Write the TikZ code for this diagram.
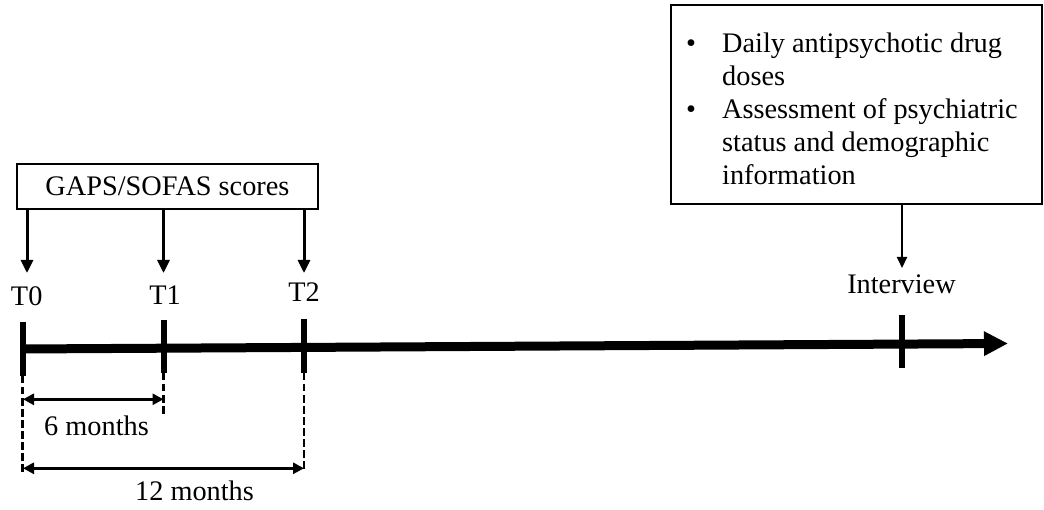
\documentclass[tikz,border=0pt]{standalone}
\usepackage{fontspec}
\setmainfont{Liberation Serif}
\usetikzlibrary{arrows.meta}
\begin{document}
\begin{tikzpicture}[x=1pt,y=-1pt,
  lbl/.style={font=\fontsize{28.3}{33}\selectfont, inner sep=0pt},
  box/.style={draw, line width=2pt, inner sep=0pt},
  down/.style={line width=3pt, -{Triangle[length=13pt,width=12pt]}},
  tickmark/.style={line width=6pt},
  dsh/.style={line width=2.5pt, dash pattern=on 7.5pt off 3.5pt},
  span/.style={line width=3pt, {Triangle[length=11pt,width=11pt]}-{Triangle[length=11pt,width=11pt]}}]
\useasboundingbox (0,0) rectangle (1044,510);

% main axis
\coordinate (a0) at (22,349);
\coordinate (aend) at (1008,343.5);
\draw[line width=9pt, -{Triangle[length=24pt,width=23pt]}] (a0) -- (aend);

% ticks
\coordinate (t0top) at (22.5,322);   \coordinate (t0bot) at (22.5,376);
\coordinate (t1top) at (163.5,320);  \coordinate (t1bot) at (163.5,373);
\coordinate (t2top) at (304,319);    \coordinate (t2bot) at (304,373);
\coordinate (titop) at (902,315);    \coordinate (tibot) at (902,368);
\draw[tickmark] (t0top) -- (t0bot);
\draw[tickmark] (t1top) -- (t1bot);
\draw[tickmark] (t2top) -- (t2bot);
\draw[tickmark] (titop) -- (tibot);

% dashed extensions
\coordinate (d0) at (22.5,473);
\coordinate (d1) at (163.5,417);
\coordinate (d2) at (304,470);
\draw[dsh] (t0bot) -- (d0);
\draw[dsh] (t1bot) -- (d1);
\draw[dsh] (t2bot) -- (d2);

% span arrows
\coordinate (s6a) at (23,399.3);  \coordinate (s6b) at (163.5,399.3);
\coordinate (s12a) at (23,468.3); \coordinate (s12b) at (304,468.3);
\draw[span] (s6a) -- (s6b);
\draw[span] (s12a) -- (s12b);
\node[lbl, anchor=base] (m6) at (96.5,435) {6 months};
\node[lbl, anchor=base] (m12) at (194.5,500) {12 months};

% time labels
\node[lbl, anchor=base] (lt0) at (26.7,306) {T0};
\node[lbl, anchor=base] (lt1) at (165,305) {T1};
\node[lbl, anchor=base] (lt2) at (304,302) {T2};
\node[lbl, anchor=base] (lti) at (901.5,294) {Interview};

% GAPS box
\node[box, lbl, minimum width=301pt, minimum height=45pt] (gaps) at (167.5,186.5) {GAPS/SOFAS scores};
\coordinate (g0) at (27,273);
\coordinate (g1) at (163.5,273);
\coordinate (g2) at (304,273);
\draw[down] (gaps.south -| g0) -- (g0);
\draw[down] (gaps.south -| g1) -- (g1);
\draw[down] (gaps.south -| g2) -- (g2);

% info box
\node[box, anchor=north west, minimum width=371pt, minimum height=199pt] (info) at (670,4) {};
\node[lbl, anchor=base west] (infotext) at (686,53) {\begin{tabular}[t]{@{}p{36pt}@{}l@{}}
•&Daily antipsychotic drug\\
&doses\\
•&Assessment of psychiatric\\
&status and demographic\\
&information
\end{tabular}};
\coordinate (ia) at (902,268);
\draw[line width=2pt, -{Triangle[length=11pt,width=10pt]}] (info.south -| ia) -- (ia);
\end{tikzpicture}
\end{document}
